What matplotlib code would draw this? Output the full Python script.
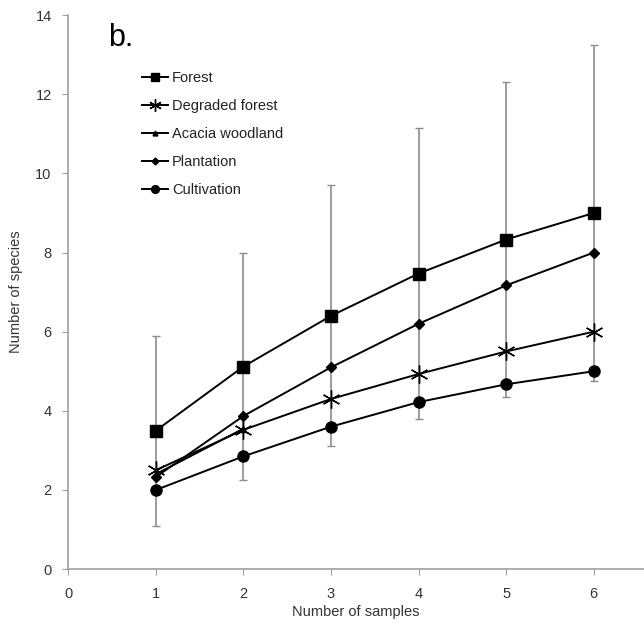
import matplotlib.pyplot as plt
import numpy as np

plt.rcParams['font.family'] = ['Liberation Sans', 'DejaVu Sans']

samples = [1, 2, 3, 4, 5, 6]
forest = [3.5, 5.12, 6.4, 7.47, 8.33, 9.0]
forest_err = [2.4, 2.88, 3.3, 3.68, 3.97, 4.25]
degraded = [2.5, 3.52, 4.3, 4.93, 5.5, 6.0]
acacia_samples = [1, 2]
acacia = [2.4, 3.55]
plantation = [2.33, 3.87, 5.1, 6.2, 7.17, 8.0]
cultivation = [2.0, 2.85, 3.6, 4.22, 4.67, 5.0]

fig = plt.figure(figsize=(6.44, 6.33), dpi=100)
ax = fig.add_axes([0.1062, 0.101, 0.8938, 0.875])

ax.errorbar(samples, forest, yerr=forest_err, fmt='none', ecolor='#8c8c8c',
            elinewidth=1.2, capsize=3, capthick=1, zorder=1)

k = dict(color='black', lw=1.4, zorder=3)
ax.plot(samples, forest, marker='s', ms=8, label='Forest', **k)
ax.plot(samples, degraded, marker=(6, 2, 0), ms=13, mew=1.0, label='Degraded forest', **k)
ax.plot(acacia_samples, acacia, marker='^', ms=5, label='Acacia woodland', **k)
ax.plot(samples, plantation, marker='D', ms=5, label='Plantation', **k)
ax.plot(samples, cultivation, marker='o', ms=8, label='Cultivation', **k)

ax.set_xlim(0, 6.575)
ax.set_ylim(0, 14)
ax.set_xticks(range(0, 7))
ax.set_yticks(range(0, 15, 2))
for s in ['top', 'right']:
    ax.spines[s].set_visible(False)
for s in ['left', 'bottom']:
    ax.spines[s].set_color('#a0a0a0')
    ax.spines[s].set_linewidth(1.2)
ax.tick_params(colors='#a0a0a0', labelcolor='#333333', labelsize=10.5, length=4)
ax.tick_params(axis='x', pad=9)
ax.tick_params(axis='y', pad=8)

ax.set_xlabel('Number of samples', fontsize=10.5, color='#333333', labelpad=3)
ax.set_ylabel('Number of species', fontsize=10.5, color='#333333', labelpad=9)

leg = ax.legend(loc='upper left', bbox_to_anchor=(0.117, 0.909), frameon=False,
                fontsize=10.5, handlelength=1.8, handletextpad=0.3,
                labelspacing=0.95, borderaxespad=0, markerscale=0.7)
for t in leg.get_texts():
    t.set_color('#222222')

fig.text(0.168, 0.94, 'b.', fontsize=22, color='black', va='center')

fig.savefig('out.png', dpi=100)
